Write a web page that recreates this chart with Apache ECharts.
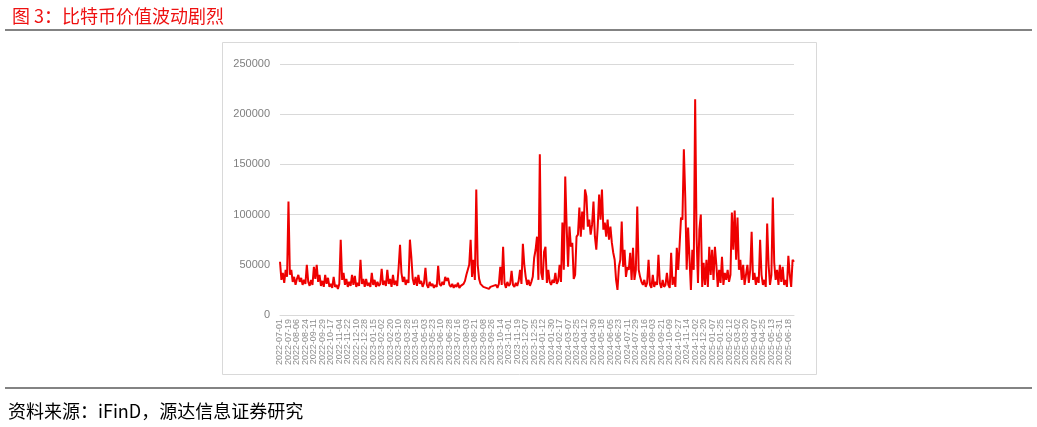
<!DOCTYPE html>
<html>
<head>
<meta charset="utf-8">
<script src="https://cdn.jsdelivr.net/npm/echarts@6/dist/echarts.min.js"></script>
<style>
html,body{margin:0;padding:0;background:#fff;}
#c{width:1037px;height:427px;}
</style>
</head>
<body>
<div id="c"></div>
<script>
// Tick labels (every 6th point of the 3-day sampled series)
const tickLabels = [
"2022-07-01","2022-07-19","2022-08-06","2022-08-24","2022-09-11","2022-09-29","2022-10-17","2022-11-04","2022-11-22","2022-12-10","2022-12-28",
"2023-01-15","2023-02-02","2023-02-20","2023-03-10","2023-03-28","2023-04-15","2023-05-03","2023-05-23","2023-06-10","2023-06-28",
"2023-07-16","2023-08-03","2023-08-21","2023-09-08","2023-09-26","2023-10-14","2023-11-01","2023-11-19","2023-12-07","2023-12-25",
"2024-01-12","2024-01-30","2024-02-17","2024-03-07","2024-03-25","2024-04-12","2024-04-30","2024-05-18","2024-06-05","2024-06-23",
"2024-07-11","2024-07-29","2024-08-16","2024-09-03","2024-09-21","2024-10-09","2024-10-27","2024-11-14","2024-12-02","2024-12-20",
"2025-01-07","2025-01-25","2025-02-12","2025-03-02","2025-03-20","2025-04-07","2025-04-25","2025-05-13","2025-05-31","2025-06-18"
];
const yTicks = [0, 50000, 100000, 150000, 200000, 250000];

// Series values (approx. one value per 3 days)
const values2022 = [
53000,35000,42000,32000,45000,38000,113000,40000,45000,33000,
38000,30000,36000,40000,33000,37000,30000,35000,31000,50000,
33000,29000,35000,30000,48000,36000,50000,33000,40000,29000,
34000,28000,40000,31000,37000,28000,31000,27000,38000,28000,
30000,26000,31000,75000,35000,42000,30000,36000,28000,33000,
29000,40000,30000,39000,28000,32000,29000,55000,31000,36000,
28000
];
const values2023 = [
36000,29000,32000,28000,42000,30000,35000,28000,33000,
29000,31000,46000,30000,34000,29000,45000,31000,36000,28000,
40000,30000,34000,29000,47000,70000,42000,33000,38000,30000,
35000,32000,75000,58000,36000,30000,38000,29000,40000,31000,
34000,28000,32000,47000,30000,27000,33000,29000,31000,27000,
30000,28000,49000,31000,29000,33000,30000,38000,34000,37000,
30000,28000,31000,27000,30000,28000,32000,27000,29000,28000,
31000,34000,40000,45000,50000,75000,38000,55000,35000,125000,
50000,36000,31000,30000,28000,29000,27000,28000,26000,28000,
27000,29000,28000,30000,27000,31000,48000,30000,68000,32000,
27000,33000,29000,31000,44000,30000,28000,32000,29000,34000,
45000,31000,71000,50000,38000,30000,35000,29000,33000,38000,
57000,65000,78000
];
const values2024 = [
35000,160000,42000,35000,63000,68000,32000,
45000,33000,30000,35000,32000,42000,31000,34000,50000,33000,
92000,45000,138000,88000,48000,88000,68000,72000,36000,40000,
78000,80000,107000,78000,103000,85000,125000,118000,88000,95000,
80000,90000,113000,78000,65000,88000,120000,95000,125000,85000,
92000,78000,95000,75000,88000,72000,62000,55000,35000,25000,
48000,55000,93000,48000,65000,38000,48000,45000,62000,35000,
67000,35000,45000,108000,45000,38000,33000,30000,35000,28000,
32000,55000,30000,27000,40000,28000,33000,30000,60000,32000,
27000,35000,28000,30000,42000,30000,27000,62000,30000,38000,
28000,67000,45000,70000,97000,95000,165000,117000,45000,87000,
88000,25000,65000,45000,215000,78000,32000,85000,100000,28000,
52000,30000,55000,28000,68000
];
const values2025 = [
40000,65000,35000,68000,50000,
28000,45000,32000,58000,30000,42000,35000,45000,33000,40000,
102000,65000,104000,55000,97000,45000,55000,35000,50000,30000,
40000,50000,32000,45000,83000,35000,42000,30000,38000,32000,
75000,40000,30000,35000,28000,91000,50000,30000,40000,117000,
52000,35000,45000,30000,50000,33000,48000,30000,35000,28000,
59000,40000,28000,55000,53000
];

const seriesValues = values2022.concat(values2023, values2024, values2025);
// category per sampled point: a tick label at every 6th point, a hidden filler otherwise
const categories = seriesValues.map((v, i) => (i % 6 === 0 && tickLabels[i / 6]) ? tickLabels[i / 6] : '_' + i);

const chart = echarts.init(document.getElementById('c'), null, {renderer: 'canvas'});
chart.setOption({
  animation: false,
  backgroundColor: '#ffffff',
  title: {
    text: '图 3：比特币价值波动剧烈',
    left: 7, top: 2,
    textStyle: {color: '#ee1111', fontSize: 18, fontWeight: 'normal', fontFamily: 'Noto Sans CJK SC'}
  },
  graphic: [
    {type: 'line', shape: {x1: 5, y1: 30, x2: 1032, y2: 30}, style: {stroke: '#5a5a5a', lineWidth: 1.5}},
    {type: 'line', shape: {x1: 5, y1: 388, x2: 1032, y2: 388}, style: {stroke: '#5a5a5a', lineWidth: 1.5}},
    {type: 'rect', shape: {x: 222.5, y: 42.5, width: 594, height: 332}, style: {fill: 'none', stroke: '#d9d9d9', lineWidth: 1}},
    {type: 'text', left: 8, top: 402, style: {text: '资料来源：iFinD，源达信息证券研究', fill: '#000', fontSize: 18, fontFamily: 'Noto Sans CJK SC'}}
  ],
  grid: {left: 280, right: 243, top: 64, bottom: 112, containLabel: false},
  xAxis: {
    type: 'category',
    data: categories,
    boundaryGap: false,
    axisLine: {show: true, lineStyle: {color: '#d9d9d9', width: 1}},
    axisTick: {show: false},
    axisLabel: {
      interval: 0,
      rotate: 90,
      margin: 4,
      fontSize: 9,
      color: '#8c8c8c',
      fontFamily: 'Liberation Sans',
      hideOverlap: false,
      formatter: (v) => (v.charAt(0) === '_' ? '' : v)
    },
    splitLine: {show: false}
  },
  yAxis: {
    type: 'value',
    min: yTicks[0],
    max: yTicks[yTicks.length - 1],
    interval: 50000,
    axisLine: {show: false},
    axisTick: {show: false},
    axisLabel: {fontSize: 11, color: '#7f7f7f', margin: 10, fontFamily: 'Liberation Sans', formatter: (v) => String(v)},
    splitLine: {lineStyle: {color: '#d9d9d9', width: 1}}
  },
  series: [{
    type: 'line',
    data: seriesValues,
    showSymbol: false,
    symbol: 'none',
    lineStyle: {color: '#ee0000', width: 2},
    itemStyle: {color: '#ee0000'}
  }]
});
</script>
</body>
</html>
